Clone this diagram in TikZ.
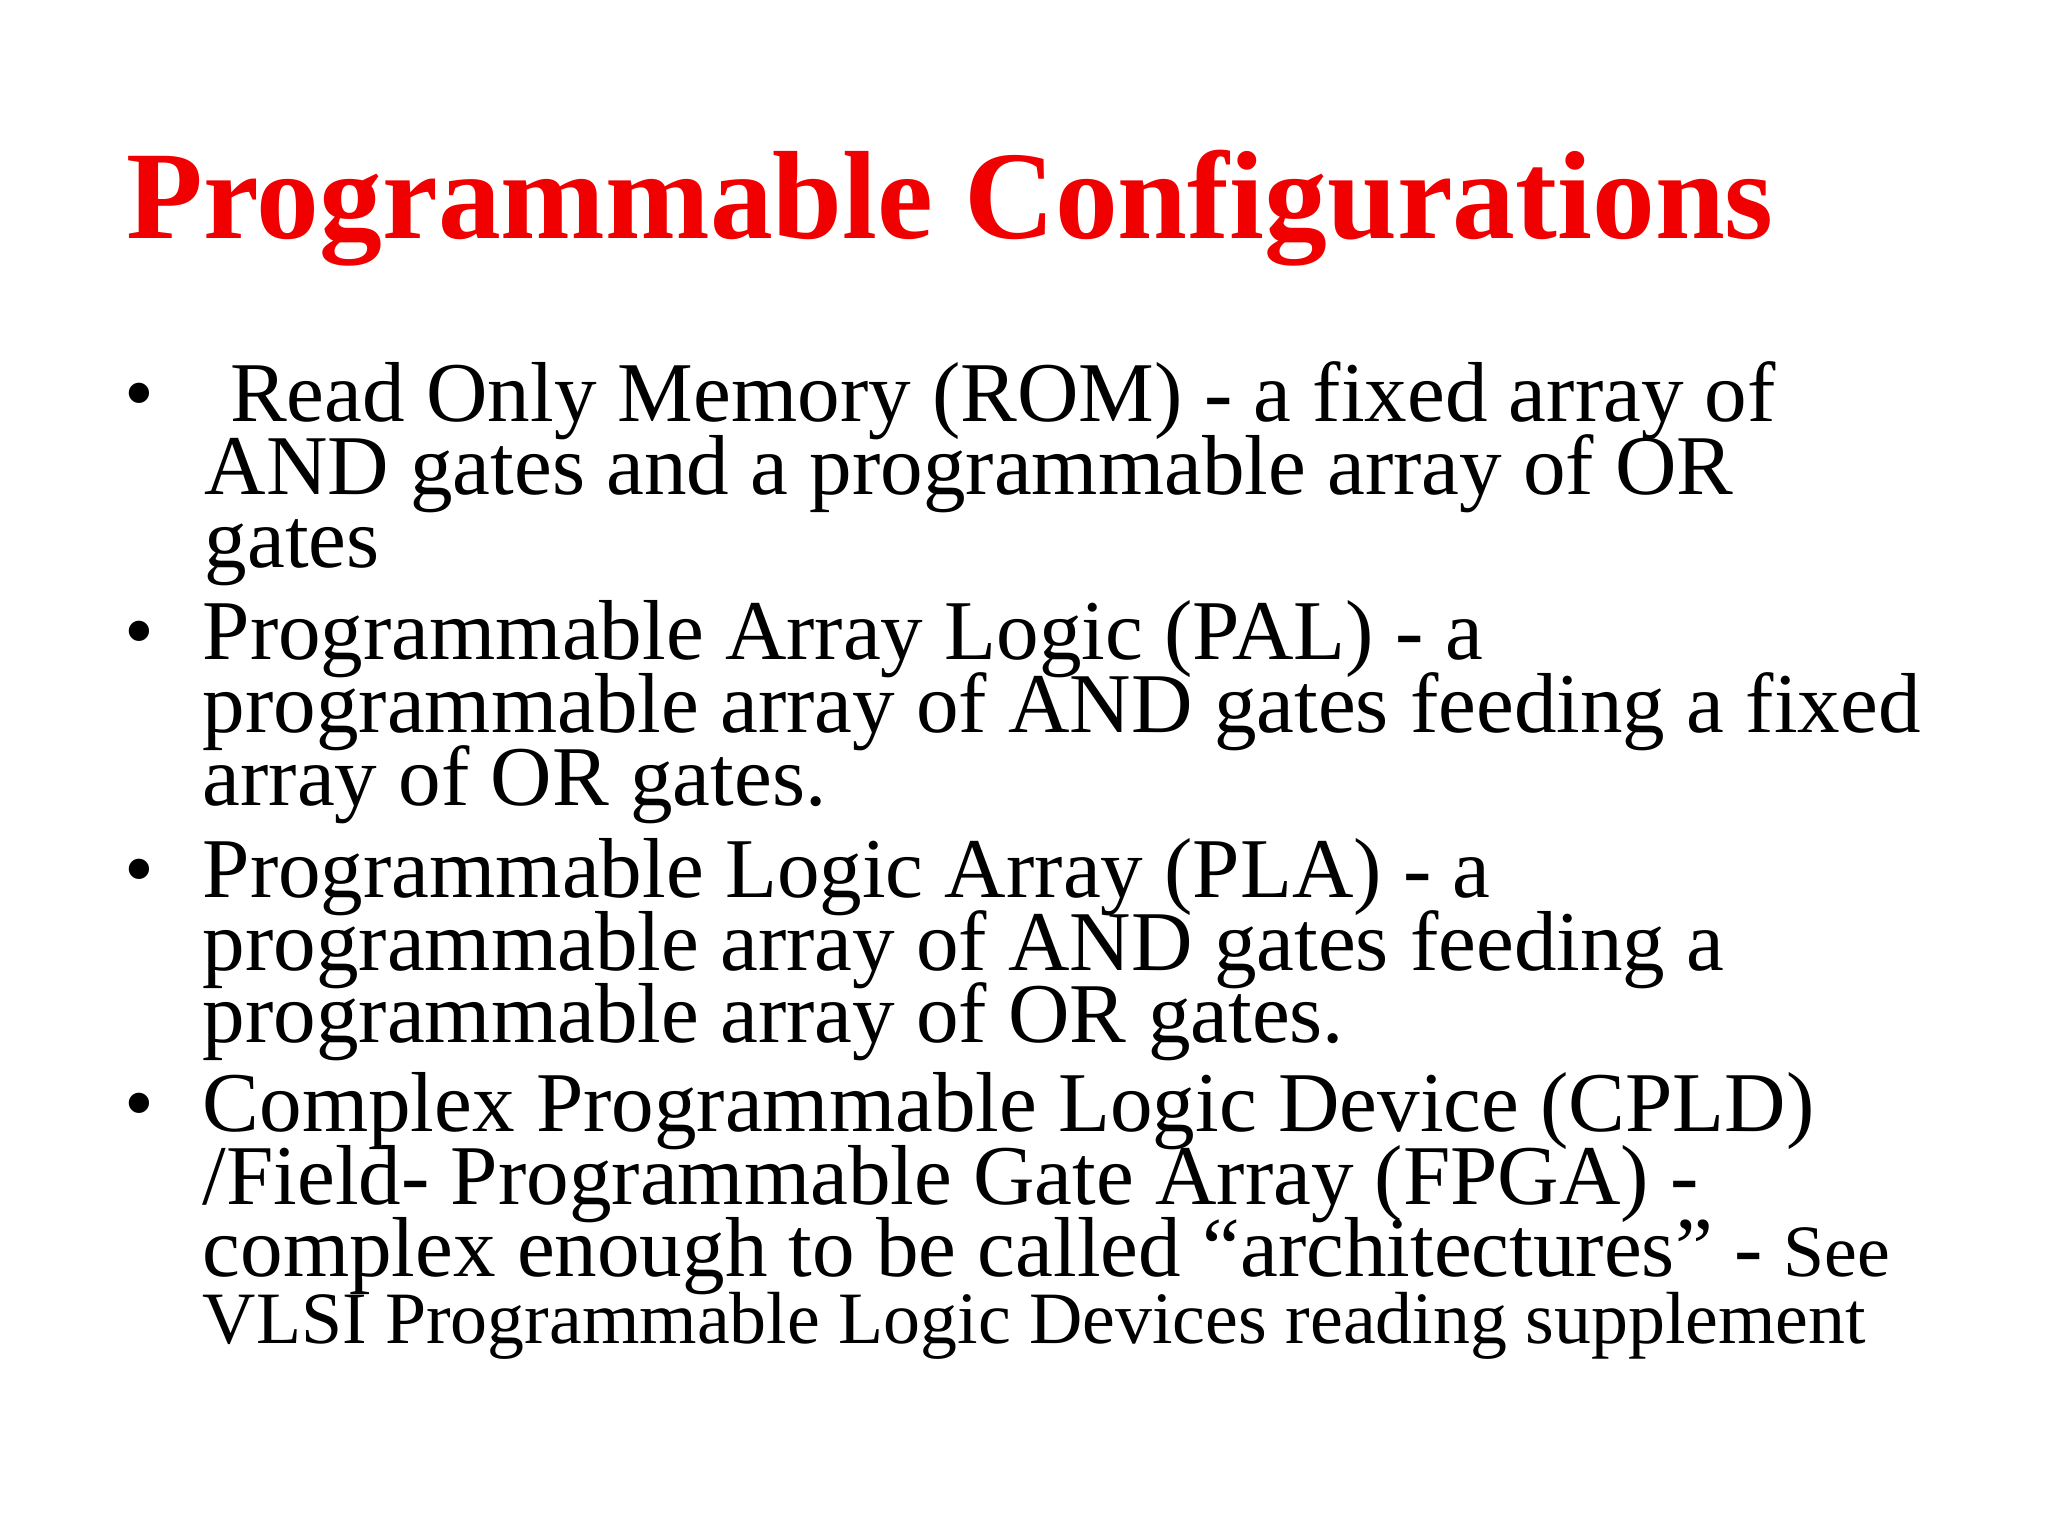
\documentclass[tikz,border=0pt]{standalone}
\usepackage{fontspec}
\setmainfont{Liberation Serif}
\definecolor{titlered}{RGB}{240,0,0}
\begin{document}
\begin{tikzpicture}[x=0.01cm,y=-0.01cm,
  ln/.style={anchor=base west,inner sep=0pt,font=\fontsize{24.2pt}{24pt}\selectfont},
  sm/.style={anchor=base west,inner sep=0pt,font=\fontsize{21pt}{21pt}\selectfont},
  bul/.style={anchor=base west,inner sep=0pt,font=\fontsize{24.2pt}{24pt}\selectfont}]
\useasboundingbox (0,0) rectangle (2048,1536);
\node[anchor=base west,inner sep=0pt,text=titlered,font=\fontsize{35.7pt}{40pt}\selectfont\bfseries] (title) at (126,238) {Programmable Configurations};
\node[bul] (b1) at (124,421) {•};
\node[ln] (l1) at (204,421) {\hspace{0.3em}Read Only Memory (ROM) - a fixed array of};
\node[ln] (l2) at (204,494) {AND gates and a programmable array of OR};
\node[ln] (l3) at (204,567) {gates};
\node[bul] (b2) at (124,659) {•};
\node[ln] (l4) at (202,659) {Programmable Array Logic (PAL) - a};
\node[ln] (l5) at (202,732) {programmable array of AND gates feeding a fixed};
\node[ln] (l6) at (202,805) {array of OR gates.};
\node[bul] (b3) at (124,897) {•};
\node[ln] (l7) at (202,897) {Programmable Logic Array (PLA) - a};
\node[ln] (l8) at (202,970) {programmable array of AND gates feeding a};
\node[ln] (l9) at (202,1042) {programmable array of OR gates.};
\node[bul] (b4) at (124,1131) {•};
\node[ln] (l10) at (202,1131) {Complex Programmable Logic Device (CPLD)};
\node[ln] (l11) at (202,1204) {/Field- Programmable Gate Array (FPGA) -};
\node[ln] (l12) at (202,1276) {complex enough to be called “architectures” - {\fontsize{21pt}{21pt}\selectfont See}};
\node[sm] (l13) at (202,1343) {VLSI Programmable Logic Devices reading supplement};
\end{tikzpicture}
\end{document}
